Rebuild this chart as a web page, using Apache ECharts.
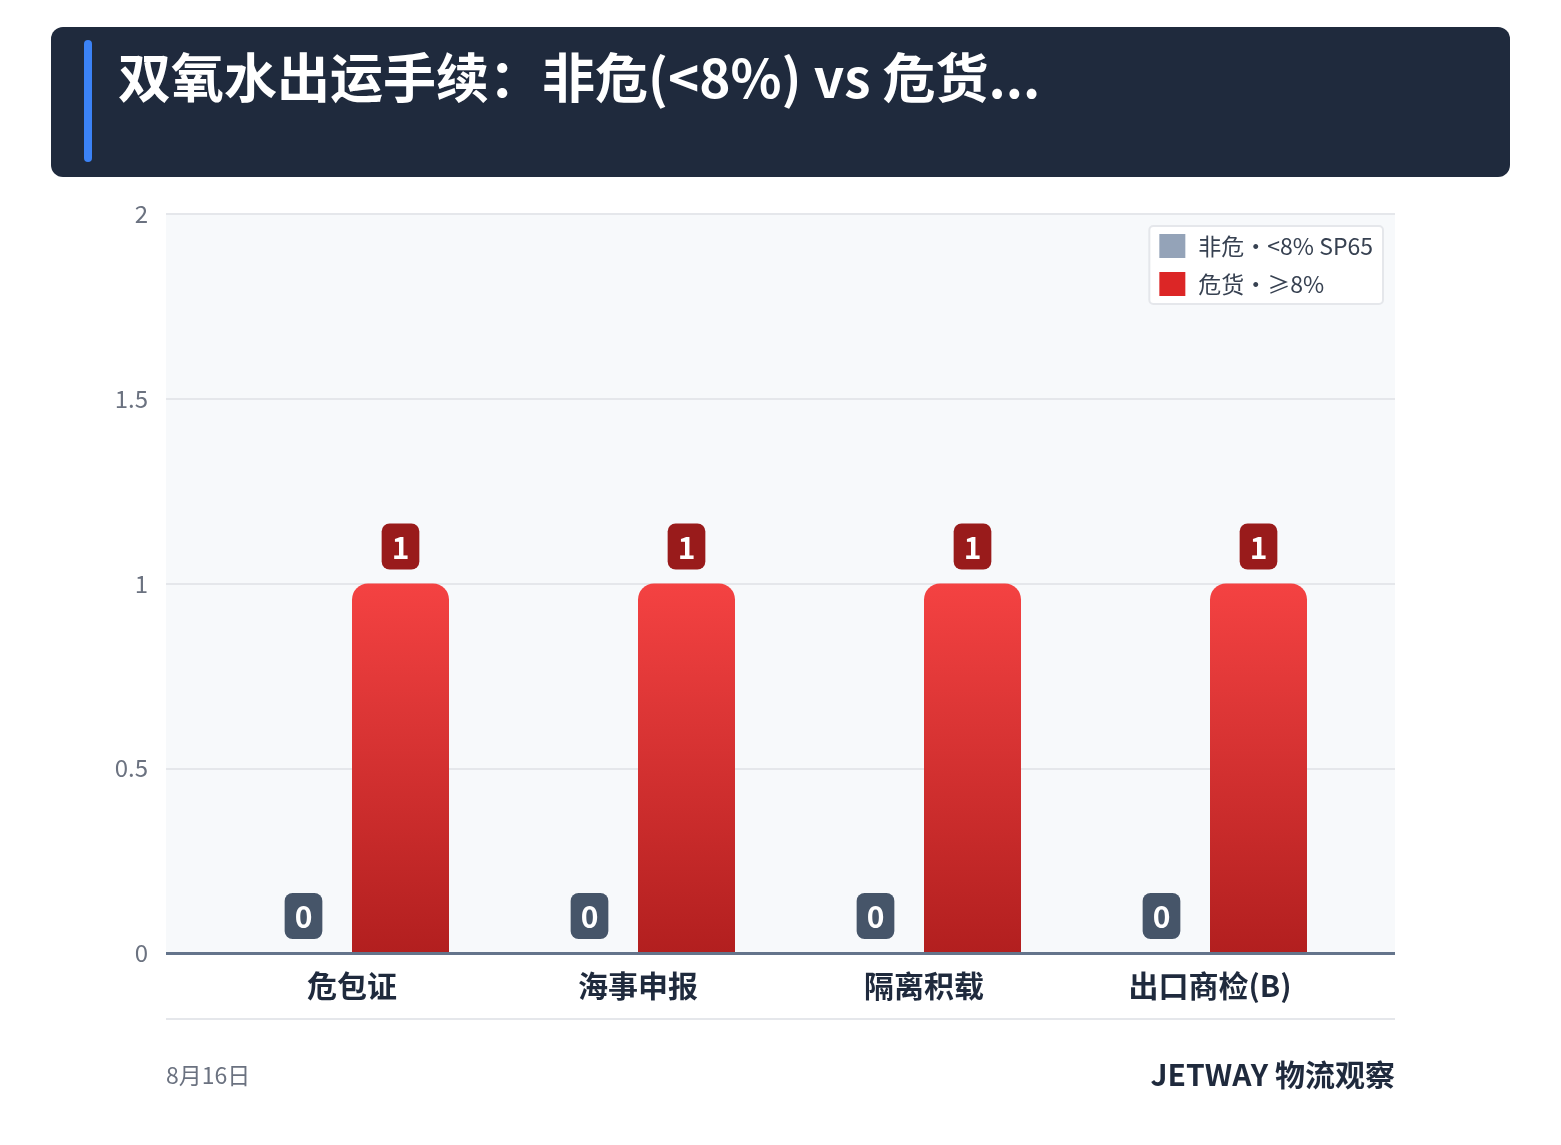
<!DOCTYPE html>
<html><head><meta charset="utf-8">
<script src="https://cdn.jsdelivr.net/npm/echarts@6/dist/echarts.min.js"></script>
<style>html,body{margin:0;background:#fff}#c{width:1561px;height:1145px}</style></head>
<body><div id="c"></div>
<script>
const title = '双氧水出运手续：非危(<8%) vs 危货...';
const categories = ['危包证','海事申报','隔离积载','出口商检(B)'];
const nonHazName = '非危·<8% SP65';
const hazName = '危货·≥8%';
const nonHaz = [0,0,0,0];
const haz = [1,1,1,1];
const yTicks = {min:0,max:2,interval:0.5};
const dateText = '8月16日';
const brandText = 'JETWAY 物流观察';

const font = '"Noto Sans CJK SC","Noto Sans",sans-serif';
const chart = echarts.init(document.getElementById('c'));
chart.setOption({
  textStyle:{fontFamily:font},
  graphic:[
    {type:'rect',shape:{x:51,y:27,width:1459,height:150,r:12},style:{fill:'#1f2a3d'}},
    {type:'rect',shape:{x:84,y:40,width:8,height:122,r:4},style:{fill:'#3b82f6'}},
    {type:'text',x:118,y:78,style:{text:title,fill:'#fff',font:'bold 53px '+font,textVerticalAlign:'middle'}},
    {type:'rect',shape:{x:166,y:214,width:1229,height:739},style:{fill:'#f7f9fb'},z:-10},
    {type:'line',shape:{x1:166,y1:1019,x2:1395,y2:1019},style:{stroke:'#e5e7eb',lineWidth:2}},
    {type:'text',x:166,y:1075,style:{text:dateText,fill:'#6b7280',font:'23px '+font,textVerticalAlign:'middle'}},
    {type:'text',x:1395,y:1075,style:{text:brandText,fill:'#1f2a3d',font:'bold 30px '+font,textAlign:'right',textVerticalAlign:'middle'}}
  ],
  legend:{top:226,right:178,orient:'vertical',itemWidth:26,itemHeight:24,itemGap:14,
    backgroundColor:'#fff',borderColor:'#e5e7eb',borderWidth:2,borderRadius:4,padding:[8,10,8,10],
    textStyle:{fontSize:23,color:'#374151',padding:[0,0,0,8]},
    data:[{name:nonHazName,icon:'rect',itemStyle:{color:'#94a3b8'}},{name:hazName,icon:'rect',itemStyle:{color:'#dc2626'}}]},
  grid:[
    {left:166,right:166,top:214,bottom:192},
    {left:209,right:208,top:214,bottom:192}
  ],
  xAxis:[
    {gridIndex:0,type:'category',data:[''],show:false},
    {gridIndex:1,type:'category',data:categories,
      axisLine:{show:false},axisTick:{show:false},
      axisLabel:{fontSize:30,fontWeight:'bold',color:'#1f2a3d',margin:18}}
  ],
  yAxis:[
    {gridIndex:0,type:'value',min:yTicks.min,max:yTicks.max,interval:yTicks.interval,
      axisLabel:{fontSize:24,color:'#6b7280',margin:18},
      splitLine:{lineStyle:{color:'#e5e7eb',width:2}},
      axisLine:{show:false}},
    {gridIndex:1,type:'value',min:yTicks.min,max:yTicks.max,interval:yTicks.interval,show:false,splitLine:{show:false}}
  ],
  series:[
    {type:'line',xAxisIndex:0,yAxisIndex:0,data:[],markLine:{silent:true,symbol:'none',label:{show:false},
      lineStyle:{color:'#64748b',width:3,type:'solid'},data:[{yAxis:0}]}},
    {name:nonHazName,type:'bar',xAxisIndex:1,yAxisIndex:1,data:nonHaz,barWidth:97,barGap:'0%',
      itemStyle:{color:'#94a3b8'},
      label:{show:true,position:'top',distance:14,fontSize:30,fontWeight:'bold',color:'#fff',
        backgroundColor:'#465569',borderRadius:8,padding:[9,10,7,10]}},
    {name:hazName,type:'bar',xAxisIndex:1,yAxisIndex:1,data:haz,barWidth:97,
      itemStyle:{borderRadius:[16,16,0,0],color:new echarts.graphic.LinearGradient(0,0,0,1,[
        {offset:0,color:'#f44242'},{offset:1,color:'#b21f1f'}])},
      label:{show:true,position:'top',distance:14,fontSize:30,fontWeight:'bold',color:'#fff',
        backgroundColor:'#991b1b',borderRadius:8,padding:[9,10,7,10]}}
  ]
});
</script></body></html>
